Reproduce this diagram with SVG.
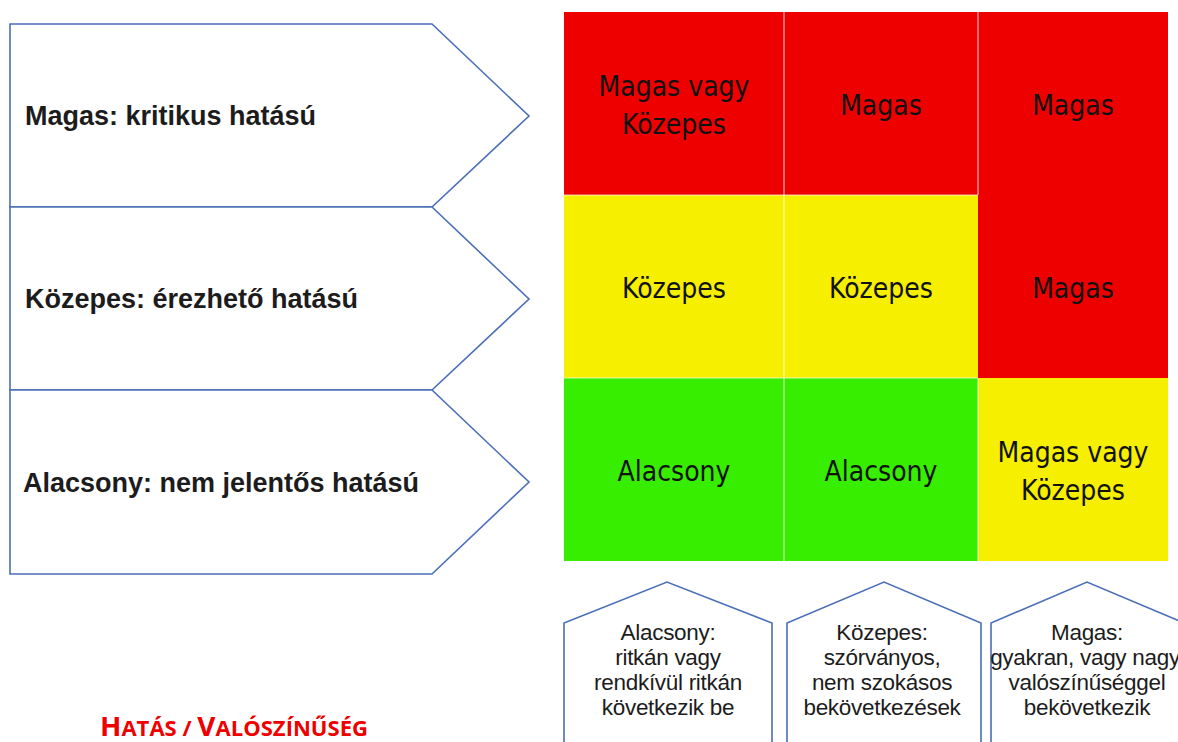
<svg xmlns="http://www.w3.org/2000/svg" width="1178" height="742" viewBox="0 0 1178 742">
<style>
.arrow{fill:#fff;stroke:#4a6fb8;stroke-width:1.6}
.lbl{font-family:"Liberation Sans",Arial,sans-serif;font-weight:bold;font-size:27px;fill:#1c1c1c}
.cell{font-family:"DejaVu Sans Condensed","DejaVu Sans",sans-serif;font-size:28px;fill:#111;text-anchor:middle}
.sep{stroke:#ffffff;stroke-opacity:0.7;stroke-width:1.2}
.hs{font-family:"Liberation Sans",Arial,sans-serif;font-size:22.5px;fill:#1c1c1c;text-anchor:middle;letter-spacing:-0.3px}
.red{fill:#ee0000}.yel{fill:#f6ef00}.grn{fill:#38ee00}
</style>
<rect width="1178" height="742" fill="#fff"/>
<g id="impact-high">
<polygon class="arrow" points="10,24 432,24 529,116 432,207 10,207"/>
<text class="lbl" x="25" y="125">Magas: kritikus hatású</text>
</g>
<g id="impact-medium">
<polygon class="arrow" points="10,207 432,207 529,299 432,390 10,390"/>
<text class="lbl" x="25" y="308">Közepes: érezhető hatású</text>
</g>
<g id="impact-low">
<polygon class="arrow" points="10,390 432,390 529,482 432,574 10,574"/>
<text class="lbl" x="23" y="492">Alacsony: nem jelentős hatású</text>
</g>
<g id="matrix">
<rect class="red" x="564" y="12" width="220" height="183"/>
<rect class="red" x="784" y="12" width="194" height="183"/>
<rect class="red" x="978" y="12" width="190" height="183"/>
<rect class="yel" x="564" y="195" width="220" height="183"/>
<rect class="yel" x="784" y="195" width="194" height="183"/>
<rect class="red" x="978" y="195" width="190" height="183"/>
<rect class="grn" x="564" y="378" width="220" height="183"/>
<rect class="grn" x="784" y="378" width="194" height="183"/>
<rect class="yel" x="978" y="378" width="190" height="183"/>
<line class="sep" x1="784" y1="12" x2="784" y2="561"/>
<line class="sep" x1="978" y1="12" x2="978" y2="195"/>
<line class="sep" x1="978" y1="378" x2="978" y2="561"/>
<line class="sep" x1="564" y1="195" x2="978" y2="195"/>
<line class="sep" x1="564" y1="378" x2="978" y2="378"/>
<text class="cell" x="674" y="96">Magas vagy</text>
<text class="cell" x="674" y="134">Közepes</text>
<text class="cell" x="881" y="115">Magas</text>
<text class="cell" x="1073" y="115">Magas</text>
<text class="cell" x="674" y="298">Közepes</text>
<text class="cell" x="881" y="298">Közepes</text>
<text class="cell" x="1073" y="298">Magas</text>
<text class="cell" x="674" y="481">Alacsony</text>
<text class="cell" x="881" y="481">Alacsony</text>
<text class="cell" x="1073" y="462">Magas vagy</text>
<text class="cell" x="1073" y="500">Közepes</text>
</g>
<g id="prob-low">
<polygon class="arrow" points="564,760 564,623 667,582 772,623 772,760"/>
<text class="hs" x="668" y="640">Alacsony:</text>
<text class="hs" x="668" y="665">ritkán vagy</text>
<text class="hs" x="668" y="690">rendkívül ritkán</text>
<text class="hs" x="668" y="715">következik be</text>
</g>
<g id="prob-medium">
<polygon class="arrow" points="787,760 787,623 884,582 981,623 981,760"/>
<text class="hs" x="882" y="640">Közepes:</text>
<text class="hs" x="882" y="665">szórványos,</text>
<text class="hs" x="882" y="690">nem szokásos</text>
<text class="hs" x="882" y="715">bekövetkezések</text>
</g>
<g id="prob-high">
<polygon class="arrow" points="991,760 991,623 1087,582 1184,623 1184,760"/>
<text class="hs" x="1087" y="640">Magas:</text>
<text class="hs" x="1085" y="665" letter-spacing="-0.8">gyakran, vagy nagy</text>
<text class="hs" x="1087" y="690">valószínűséggel</text>
<text class="hs" x="1087" y="715">bekövetkezik</text>
</g>
<g id="title">
<text x="100" y="736" font-family="'Open Sans','Liberation Sans',sans-serif" font-weight="bold" fill="#ee0000" textLength="268" lengthAdjust="spacingAndGlyphs"><tspan font-size="26">H</tspan><tspan font-size="20.5">ATÁS / </tspan><tspan font-size="26">V</tspan><tspan font-size="20.5">ALÓSZÍNŰSÉG</tspan></text>
</g>
</svg>
